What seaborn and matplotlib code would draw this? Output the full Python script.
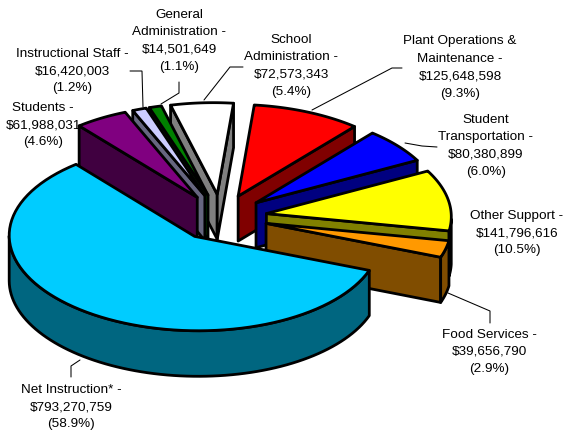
import numpy as np
import seaborn as sns
import matplotlib.pyplot as plt

# budget categories, clockwise from the right hand edge of net instruction
names = [
    "Net Instruction* -",
    "Students -",
    "Instructional Staff -",
    "General\nAdministration -",
    "School\nAdministration -",
    "Plant Operations &\nMaintenance -",
    "Student\nTransportation -",
    "Other Support -",
    "Food Services -",
]
amounts = [793270759, 61988031, 16420003, 14501649, 72573343,
           125648598, 80380899, 141796616, 39656790]
percents = [58.9, 4.6, 1.2, 1.1, 5.4, 9.3, 6.0, 10.5, 2.9]
colors = ["#00CCFF", "#800080", "#CCCCFF", "#008000", "#FFFFFF",
          "#FF0000", "#0000FF", "#FFFF00", "#FF9900"]

label_pos = [(71, 407), (43, 125), (72, 71), (179, 41), (291, 66),
             (460, 67.5), (486, 146), (517, 233), (489, 352)]
leaders = {
    0: [(80, 360), (71, 366), (71, 377)],
    2: [(143, 107), (142, 71), (130, 71)],
    3: [(161, 104), (179, 93), (179, 82)],
    4: [(204, 100), (230, 67), (243, 67)],
    5: [(312, 110), (392, 68), (402, 68)],
    6: [(405, 143), (422, 146), (437, 147)],
    8: [(448, 293), (490, 311), (490, 323)],
}

start_angle = -18
explode = 0.25
cx, cy = 221, 217.5
rx, ry = 185, 93
depth = 45
persp = 0.01
warp = -1.5   # excel's 3d view bends the angles a little
lean = 2.0
tilt = 3.0

sns.set_theme(style="white")
plt.rcParams["font.family"] = ["Liberation Sans", "DejaVu Sans"]


def project(x, y, z=0.0):
    s = 1 / (1 + persp * y)
    return cx + (rx * x + lean * y) * s, cy + (tilt * x - ry * y) * s + depth * z * s


def bend(deg):
    return np.radians(deg + warp * np.cos(np.radians(deg)))


def arc(ox, oy, t0, t1, z=0.0):
    t = bend(np.linspace(t0, t1, 80))
    return project(ox + np.cos(t), oy + np.sin(t), z)


fig, ax = plt.subplots(figsize=(5.71, 4.41), dpi=100)
fig.subplots_adjust(0, 0, 1, 1)
ax.set_xlim(0, 571)
ax.set_ylim(441, 0)
ax.axis("off")

vals = np.array(amounts, dtype=float)
sweep = vals / vals.sum() * 360
highs = start_angle - np.concatenate([[0], np.cumsum(sweep)[:-1]])
highs[1:] += 360  # everything after net instruction wraps round to the back
lows = highs - sweep

palette = sns.color_palette(colors)
style = dict(edgecolor="black", linewidth=2.0, joinstyle="round")

mids = np.radians((highs + lows) / 2)
for i in np.argsort(-np.sin(mids)):
    lo, hi = lows[i], highs[i]
    ox, oy = explode * np.cos(mids[i]), explode * np.sin(mids[i])
    dark = tuple(np.array(palette[i]) * 0.5)

    # radial walls
    for ang, visible in [(hi, np.cos(bend(hi)) < 0), (lo, np.cos(bend(lo)) > 0)]:
        if visible:
            ex, ey = ox + np.cos(bend(ang)), oy + np.sin(bend(ang))
            pts = [project(ox, oy), project(ex, ey), project(ex, ey, 1), project(ox, oy, 1)]
            ax.fill(*zip(*pts), facecolor=dark, **style)

    # outer rim, only the part that faces the viewer
    for shift in (0, -360):
        a0, a1 = max(lo, -180 + shift), min(hi, 0 + shift)
        if a1 > a0:
            xt, yt = arc(ox, oy, a0, a1)
            xb, yb = arc(ox, oy, a0, a1, 1)
            ax.fill(np.r_[xt, xb[::-1]], np.r_[yt, yb[::-1]], facecolor=dark, **style)

    # top
    xt, yt = arc(ox, oy, lo, hi)
    ax0, ay0 = project(ox, oy)
    ax.fill(np.r_[ax0, xt], np.r_[ay0, yt], facecolor=palette[i], **style)

for i, pts in leaders.items():
    ax.plot(*zip(*pts), color="black", lw=0.75, solid_joinstyle="miter")

for name, amt, pct, (x, y) in zip(names, amounts, percents, label_pos):
    ax.text(x, y, f"{name}\n\\${amt:,}\n({pct}%)", ha="center", va="center",
            fontsize=9.7, color="black", linespacing=1.6)

fig.savefig("out.png", dpi=100)
